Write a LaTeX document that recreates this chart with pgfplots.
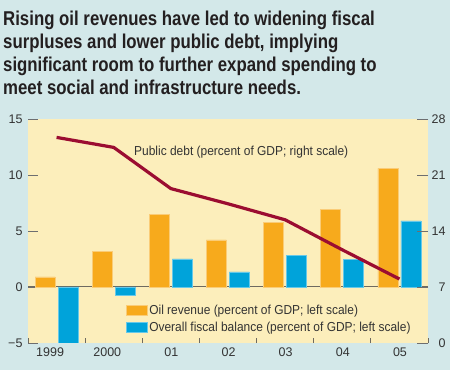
\documentclass[border=0pt]{standalone}
\usepackage{fontspec}
\setmainfont{Liberation Sans}
\newfontfamily\titlefont[FakeStretch=0.84]{Liberation Sans}
\newfontfamily\labfont[FakeStretch=0.92]{Liberation Sans}
\usepackage{pgfplots}
\pgfplotsset{compat=1.18}
\definecolor{outerbg}{HTML}{D3E8E9}
\definecolor{plotbg}{HTML}{FCEEBB}
\definecolor{oilc}{HTML}{F7AA1C}
\definecolor{balc}{HTML}{00A3DA}
\definecolor{debtc}{HTML}{9B0D31}
\definecolor{tickc}{HTML}{6D6E70}
\definecolor{textc}{HTML}{333333}
\definecolor{titlec}{HTML}{231F20}
\definecolor{zeroc}{HTML}{6E6A60}
\begin{document}
\begin{tikzpicture}
\path[use as bounding box] (0,0) rectangle (450bp,370bp);
\fill[outerbg] (0,0) rectangle (450bp,370bp);
\begin{scope}[every node/.style={anchor=base west, inner sep=0pt, text=titlec, font=\titlefont\bfseries\fontsize{20bp}{23bp}\selectfont}]
\node at (3bp,344bp) {Rising oil revenues have led to widening fiscal};
\node at (3bp,321bp) {surpluses and lower public debt, implying};
\node at (3bp,298bp) {significant room to further expand spending to};
\node at (3bp,275bp) {meet social and infrastructure needs.};
\end{scope}
\begin{axis}[
  at={(28bp,27bp)}, anchor=south west,
  scale only axis, width=400bp, height=224bp,
  xmin=-0.5, xmax=6.5, ymin=-5, ymax=15,
  axis line style={draw=none},
  axis background/.style={fill=plotbg},
  xtick={0,...,6},
  xticklabels={1999,2000,01,02,03,04,05},
  minor xtick={-0.5,0.5,...,6.5},
  xtick pos=bottom, ytick pos=left,
  tick align=inside,
  major x tick style={draw=none},
  minor x tick style={draw=zeroc, line width=0.8bp},
  minor tick length=5bp,
  ytick={-5,0,5,10,15},
  yticklabels={−5,0,5,10,15},
  major tick length=10bp,
  y tick style={draw=tickc, line width=0.9bp},
  ticklabel style={font=\fontsize{12.5bp}{14bp}\selectfont, text=textc},
  xticklabel style={anchor=north east, xshift=11bp, yshift=-1bp},
  yticklabel style={xshift=-2bp},
  legend style={at={(0.245,0.177)}, anchor=north west, draw=none, fill=none,
    inner sep=0pt, row sep=3bp, font=\labfont\fontsize{13bp}{15bp}\selectfont, text=textc,
    nodes={inner sep=1.5bp}},
  legend cell align=left,
  legend image code/.code={\fill[#1] (0bp,-5bp) rectangle (21bp,5bp);},
]
\addplot[zeroc, line width=1bp, forget plot] coordinates {(-0.5,0) (6.5,0)};
\addplot[ybar, bar width=20bp, bar shift=-11.5bp, fill=oilc, draw=oilc!60!white, line width=0.6bp]
  coordinates {(0,0.9) (1,3.2) (2,6.5) (3,4.2) (4,5.8) (5,6.9) (6,10.6)};
\addlegendentry{Oil revenue (percent of GDP; left scale)}
\addplot[ybar, bar width=20bp, bar shift=11.5bp, fill=balc, draw=balc!60!white, line width=0.6bp]
  coordinates {(0,-5.0) (1,-0.7) (2,2.5) (3,1.35) (4,2.8) (5,2.45) (6,5.9)};
\addlegendentry{Overall fiscal balance (percent of GDP; left scale)}
\node[anchor=base west, inner sep=0pt, font=\labfont\fontsize{13bp}{15bp}\selectfont, text=textc]
  at (rel axis cs:0.265,0.839) {Public debt (percent of GDP; right scale)};
\end{axis}
\begin{axis}[
  at={(28bp,27bp)}, anchor=south west,
  scale only axis, width=400bp, height=224bp,
  xmin=-0.5, xmax=6.5, ymin=0, ymax=28,
  axis x line=none, axis y line*=right,
  axis line style={draw=none},
  ytick={0,7,14,21,28},
  yticklabels={0,7,14,21,28},
  tick align=inside,
  major tick length=11bp,
  y tick style={draw=tickc, line width=0.9bp},
  ticklabel style={font=\fontsize{12.5bp}{14bp}\selectfont, text=textc},
  yticklabel style={text width=14bp, align=right},
]
\addplot[debtc, line width=3.2bp, line join=round, mark=none]
  coordinates {(0,25.7) (1,24.45) (2,19.3) (3,17.4) (4,15.4) (5,11.65) (6,8.0)};
\end{axis}
\end{tikzpicture}
\end{document}
